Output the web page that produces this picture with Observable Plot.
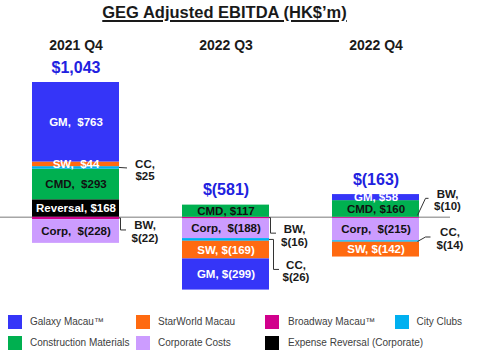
<!DOCTYPE html>
<html><head><meta charset="utf-8">
<script src="https://cdn.jsdelivr.net/npm/d3@7"></script>
<script src="https://cdn.jsdelivr.net/npm/@observablehq/plot@0.6"></script>
<style>
body{margin:0;background:#fff;font-family:"Liberation Sans",Arial,sans-serif;}
#wrap{position:relative;width:480px;height:351px;overflow:hidden;}
#title{height:28px;line-height:24px;width:449px;text-align:center;font-size:16.5px;font-weight:bold;color:#1a1a1a;}
#title span{text-decoration:underline;text-decoration-thickness:1.5px;text-underline-offset:2px;}
#chart svg{display:block;}
#legend{position:relative;height:39px;font-size:10px;color:#404040;}
.sq{position:absolute;width:14px;height:13.5px;}
.lt{position:absolute;line-height:13.5px;white-space:nowrap;}
</style></head>
<body><div id="wrap">
<div id="title"><span>GEG Adjusted EBITDA (HK$’m)</span></div>
<div id="chart"></div>
<div id="legend"></div>
</div>
<script>
// ---- data ----
const periods = ["2021 Q4", "2022 Q3", "2022 Q4"];
const totals = [1043, -581, -163];
const segKeys = ["GM", "SW", "BW", "CC", "CMD", "Corp", "Reversal"];
const segNames = ["Galaxy Macau™", "StarWorld Macau", "Broadway Macau™", "City Clubs",
                  "Construction Materials", "Corporate Costs", "Expense Reversal (Corporate)"];
const segColors = ["#3535f8", "#ff6a10", "#d1008c", "#00b0f0", "#00b050", "#cc9cff", "#000000"];
const galaxyMacau = [763, -299, 58];
const starWorld = [44, -169, -142];
const broadway = [-22, -16, -10];
const cityClubs = [25, -26, -14];
const construction = [293, 117, 160];
const corporate = [-228, -188, -215];
const expenseReversal = [168, 0, 0];
// stacking order, from the zero line outward
const stackOrder = ["Reversal", "BW", "CMD", "Corp", "CC", "SW", "GM"];
const seriesByKey = {GM: galaxyMacau, SW: starWorld, BW: broadway, CC: cityClubs,
                     CMD: construction, Corp: corporate, Reversal: expenseReversal};
const whiteLabelKeys = ["GM", "SW", "Reversal"];
const blackLabelKeys = ["CMD", "Corp"];

// ---- derived table ----
const num = d3.format(",");
const fmt = v => v < 0 ? `$(${num(-v)})` : `$${num(v)}`;
const rows = [];
periods.forEach((p, i) => stackOrder.forEach(k => {
  const v = seriesByKey[k][i];
  if (v !== 0) rows.push({period: p, seg: k, value: v, idx: i});
}));
// stack extents (same order as Plot's stack) for callouts
const ext = {};
const posTop = {};
periods.forEach(p => {
  let pos = 0, neg = 0;
  rows.filter(r => r.period === p).forEach(r => {
    const y1 = r.value >= 0 ? pos : neg;
    const y2 = y1 + r.value;
    if (r.value >= 0) pos = y2; else neg = y2;
    ext[p + "|" + r.seg] = (y1 + y2) / 2;
  });
  posTop[p] = pos;
});
const labelText = r => {
  const wide = (r.period === periods[0] && r.seg !== "Reversal") || r.seg === "Corp";
  return r.seg + (wide ? ",\u00a0 " : ", ") + fmt(r.value);
};

// ---- layout (styling only) ----
const callouts = [
  {period: "2021 Q4", seg: "CC", dx: 69, dy: 2,   leader: [[0,0],[8,0.5]]},
  {period: "2021 Q4", seg: "BW", dx: 69, dy: 13,  leader: [[0,0],[1.5,0],[1.5,12],[7,12]]},
  {period: "2022 Q3", seg: "BW", dx: 68.5, dy: 17, leader: [[0,0],[1.5,0],[1.5,15.5],[7,15.5]]},
  {period: "2022 Q3", seg: "CC", dx: 70, dy: 31,  leader: [[0,0],[4.5,0],[4.5,30],[10,30]]},
  {period: "2022 Q4", seg: "BW", dx: 71.5, dy: -18, leader: [[-1.5,-2],[6.5,-19],[9.5,-19]]},
  {period: "2022 Q4", seg: "CC", dx: 74, dy: -3,  leader: [[-1.5,0.5],[6.5,-4],[11.5,-4]]}
];
const font = '"Liberation Sans", Arial, sans-serif';

const leaderMark = (index, scales) => {
  const g = d3.create("svg:g").attr("fill", "none").attr("stroke", "#333").attr("stroke-width", 1);
  callouts.forEach(c => {
    const R = scales.x(c.period) + scales.x.bandwidth();
    const ym = scales.y(ext[c.period + "|" + c.seg]);
    g.append("path").attr("d", "M" + c.leader.map(([a, b]) => `${R + a},${ym + b}`).join("L"));
  });
  return g.node();
};

const calloutMarks = callouts.map(c => {
  const i = periods.indexOf(c.period);
  const v = seriesByKey[c.seg][i];
  return Plot.text([c], {
    x: d => d.period, y: d => ext[d.period + "|" + d.seg],
    text: () => c.seg + ",\n" + fmt(v),
    dx: c.dx, dy: c.dy, lineHeight: 1.1, textAnchor: "middle",
    fontSize: 11.5, fontWeight: "bold", fill: "#1a1a1a"
  });
});

const chart = Plot.plot({
  width: 480, height: 284,
  marginTop: 0, marginBottom: 0, marginLeft: 0, marginRight: 30,
  style: {fontFamily: font, background: "transparent", overflow: "visible"},
  x: {domain: periods, paddingInner: 0.42, paddingOuter: 0.21, axis: null},
  y: {domain: [-913, 1811], axis: null},
  color: {domain: segKeys, range: segColors},
  marks: [
    Plot.ruleY([0], {stroke: "#a6a6a6", strokeWidth: 1.5}),
    Plot.barY(rows, {x: "period", y: "value", fill: "seg", z: "seg"}),
    Plot.text(rows, Plot.stackY({x: "period", y: "value", z: "seg",
      text: r => whiteLabelKeys.includes(r.seg) ? labelText(r) : "",
      fill: "white", fontSize: 11.5, fontWeight: "bold"})),
    Plot.text(rows, Plot.stackY({x: "period", y: "value", z: "seg",
      text: r => blackLabelKeys.includes(r.seg) ? labelText(r) : "",
      fill: "#111", fontSize: 11.5, fontWeight: "bold"})),
    Plot.text(periods, {x: d => d, y: d => posTop[d], text: (d, i) => fmt(totals[i]),
      dy: -15, fill: "#2121e0", fontSize: 16, fontWeight: "bold", lineAnchor: "middle"}),
    Plot.text(periods, {x: d => d, frameAnchor: "top", lineAnchor: "middle", dy: 16.8,
      text: d => d, fontSize: 14, fontWeight: "bold", fill: "#1a1a1a"}),
    ...calloutMarks,
    leaderMark
  ]
});
document.getElementById("chart").appendChild(chart);

// ---- legend (HTML) ----
const legendCols = [[7.5, 30], [136, 158], [265, 288], [394.5, 416.5]];
const legendRows = [3, 24];
const legend = document.getElementById("legend");
segKeys.forEach((k, i) => {
  const [sx, tx] = legendCols[i % 4];
  const top = legendRows[Math.floor(i / 4)];
  const sq = document.createElement("div");
  sq.className = "sq";
  sq.style.left = sx + "px"; sq.style.top = top + "px"; sq.style.background = segColors[i];
  const t = document.createElement("div");
  t.className = "lt";
  t.style.left = tx + "px"; t.style.top = top + "px";
  t.textContent = segNames[i];
  legend.appendChild(sq); legend.appendChild(t);
});
</script>
</body></html>
